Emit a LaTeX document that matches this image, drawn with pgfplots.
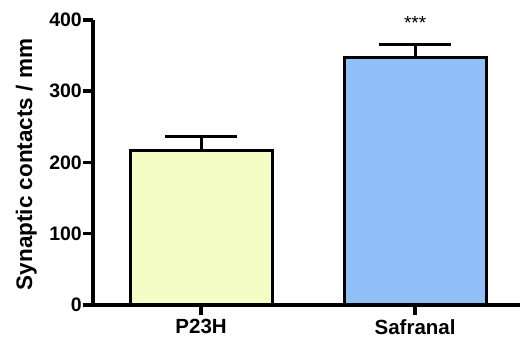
\documentclass[border=0pt]{standalone}
\usepackage{fontspec}
\setmainfont{Liberation Sans}
\usepackage{pgfplots}
\pgfplotsset{compat=1.18}
\definecolor{pyel}{RGB}{244,253,196}
\definecolor{sblue}{RGB}{145,191,247}
\begin{document}
\begin{tikzpicture}
\begin{axis}[
  scale only axis, width=427pt, height=285pt,
  xmin=-0.505, xmax=1.49, ymin=0, ymax=400,
  axis lines*=left,
  axis line style={black},
  clip=false,
  xtick={0,1}, xticklabels={P23H,Safranal},
  ytick={0,100,200,300,400}, yticklabels={0,100,200,300,400},
  tick align=outside, major tick length=10pt,
  tick style={black},
  x tick label style={font=\fontsize{20.5}{22}\selectfont\bfseries, inner sep=0pt, yshift=-4pt},
  y tick label style={font=\fontsize{19.5}{21}\selectfont\bfseries, inner sep=0pt, xshift=-1pt},
]
\addplot[ybar, bar shift=0pt, bar width=142pt, fill=pyel, draw=black, line width=3pt,
  error bars/.cd, y dir=plus, y explicit,
  error bar style={line width=3pt, black},
  error mark options={rotate=90, mark size=36pt, line width=3pt, black}]
  coordinates {(0,217) +- (0,20)};
\addplot[ybar, bar shift=0pt, bar width=142pt, fill=sblue, draw=black, line width=3pt,
  error bars/.cd, y dir=plus, y explicit,
  error bar style={line width=3pt, black},
  error mark options={rotate=90, mark size=36pt, line width=3pt, black}]
  coordinates {(1,348) +- (0,18)};
\node[anchor=base, inner sep=0pt, font=\fontsize{19}{19}\selectfont] at (axis cs:1,386) {***};
\coordinate (O) at (rel axis cs:0,0);
\coordinate (TL) at (rel axis cs:0,1);
\coordinate (BR) at (rel axis cs:1,0);
\coordinate (M) at (rel axis cs:0,0.5);
\coordinate (y0) at (axis cs:-0.505,0);
\coordinate (y100) at (axis cs:-0.505,100);
\coordinate (y200) at (axis cs:-0.505,200);
\coordinate (y300) at (axis cs:-0.505,300);
\coordinate (y400) at (axis cs:-0.505,400);
\coordinate (x0) at (axis cs:0,0);
\coordinate (x1) at (axis cs:1,0);
\end{axis}
\draw[black, line width=4pt] (TL) -- (O) -- (BR);
\foreach \v in {0,100,200,300,400} \draw[black, line width=3.5pt] (y\v) -- ++(-10pt,0);
\foreach \v in {0,1} \draw[black, line width=3.5pt] (x\v) -- ++(0,-10pt);
\node[rotate=90, anchor=south, inner sep=0pt, font=\fontsize{22.5}{24}\selectfont\bfseries] at ([xshift=-56pt,yshift=-2pt]M) {Synaptic contacts / mm};
\pgfresetboundingbox
\path ([shift={(-93pt,-32pt)}]O) rectangle ++(520pt,337pt);
\end{tikzpicture}
\end{document}
